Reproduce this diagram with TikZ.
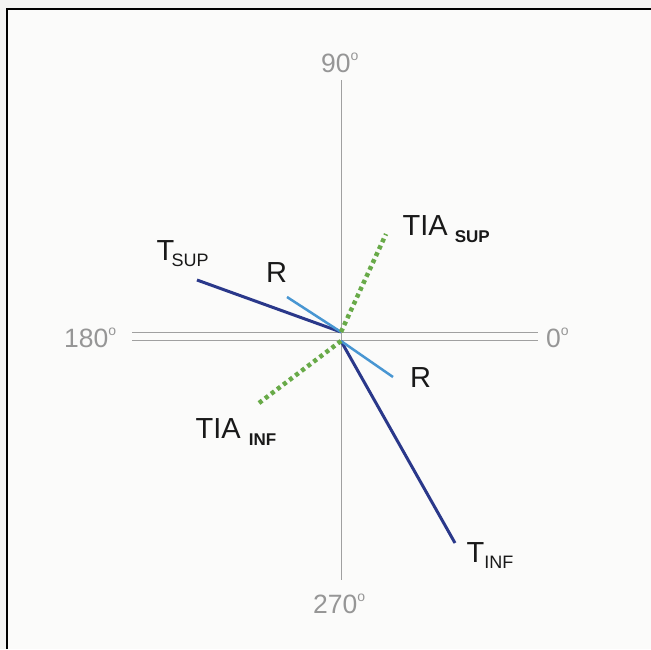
\documentclass[tikz,border=0pt]{standalone}
\usepackage{fontspec}
\setmainfont{Liberation Sans}
\definecolor{bgc}{RGB}{244,244,243}
\definecolor{axisc}{RGB}{160,160,160}
\definecolor{labc}{RGB}{150,150,150}
\definecolor{navy}{RGB}{42,56,138}
\definecolor{lblue}{RGB}{72,150,210}
\definecolor{tiagreen}{RGB}{104,170,72}
\definecolor{txt}{RGB}{25,25,25}
\newcommand{\dg}{\raisebox{11.5pt}{\fontsize{14}{14}\selectfont o}}
\newcommand{\lowsub}[1]{\raisebox{-6pt}{\fontsize{18}{18}\selectfont #1}}
\newcommand{\lowsubb}[1]{\raisebox{-7pt}{\fontsize{17}{17}\selectfont\bfseries #1}}
\begin{document}
\begin{tikzpicture}[x=1pt,y=-1pt,
  axis/.style={draw=axisc,line width=0.8pt},
  deglab/.style={text=labc,inner sep=0pt,anchor=base west,font=\fontsize{26.5}{26.5}\selectfont},
  biglab/.style={text=txt,inner sep=0pt,anchor=base west,font=\fontsize{29}{29}\selectfont},
  tline/.style={draw=navy,line width=3pt},
  rline/.style={draw=lblue,line width=2.5pt},
  tialine/.style={draw=tiagreen,line width=4.5pt,dash pattern=on 4pt off 3.6pt}]
\useasboundingbox (0,0) rectangle (651,649);
\fill[bgc] (0,0) rectangle (651,649);
\fill[white!60!bgc] (8,10) rectangle (651,649);
% frame
\draw[line width=2.8pt,black] (7,649) -- (7,9) -- (651,9);
% axes
\coordinate (vtop) at (341,80);
\coordinate (vbot) at (341,580);
\coordinate (hl1) at (132,332.5);
\coordinate (hr1) at (538,332.5);
\coordinate (hl2) at (132,340.5);
\coordinate (hr2) at (538,340.5);
\draw[axis] (vtop) -- (vbot);
\draw[axis] (hl1) -- (hr1);
\draw[axis] (hl2) -- (hr2);
% degree labels
\node[deglab] (d90) at (321,72) {90\dg};
\node[deglab] (d270) at (313,613) {270\dg};
\node[deglab] (d180) at (64,347) {180\dg};
\node[deglab] (d0) at (546,347) {0\dg};
% centres and ends
\coordinate (cu) at (341,332);
\coordinate (cl) at (341,341);
\coordinate (tsupE) at (197,280);
\coordinate (rsupE) at (287,297);
\coordinate (tiasupE) at (386,234);
\coordinate (tinfE) at (455,543);
\coordinate (rinfE) at (393,377);
\coordinate (tiainfE) at (259,403);
% lines
\draw[tline] (cu) -- (tsupE);
\draw[rline] (cu) -- (rsupE);
\draw[tialine] (cu) -- (tiasupE);
\draw[tline] (cl) -- (tinfE);
\draw[rline] (cl) -- (rinfE);
\draw[tialine] (cl) -- (tiainfE);
% labels
\node[biglab] (lTsup) at (156.5,260) {T\kern-2.7pt\lowsub{SUP}};
\node[biglab] (lRsup) at (266,282) {R};
\node[biglab] (lTIAsup) at (402.5,235) {TIA\kern7pt\lowsubb{SUP}};
\node[biglab] (lTIAinf) at (195.5,438) {TIA\kern8pt\lowsubb{INF}};
\node[biglab] (lRinf) at (410,387) {R};
\node[biglab] (lTinf) at (466.5,562) {T\lowsub{INF}};
\end{tikzpicture}
\end{document}
